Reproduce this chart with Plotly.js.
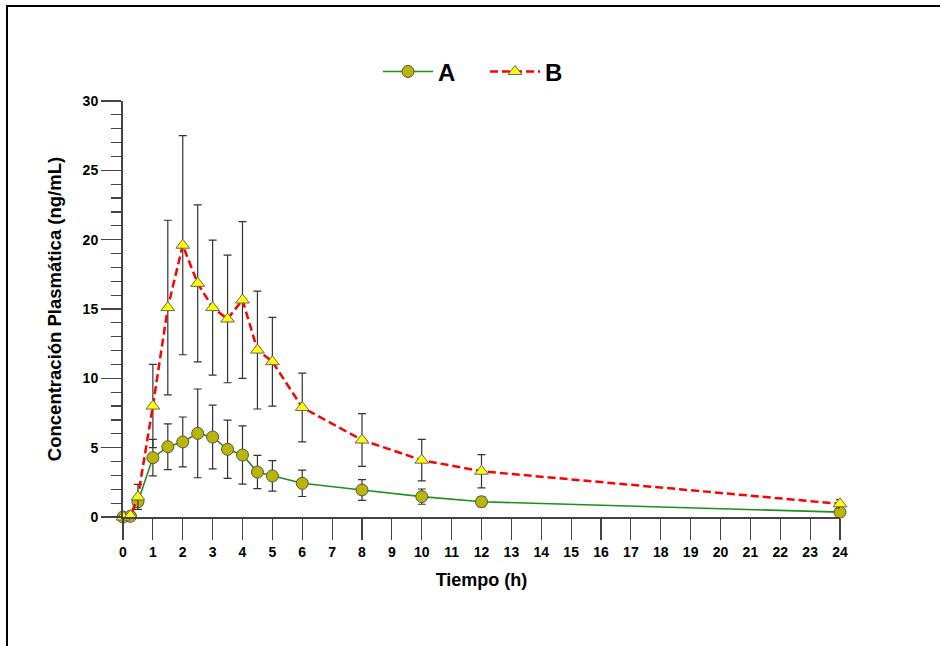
<!DOCTYPE html>
<html>
<head>
<meta charset="utf-8">
<script src="https://cdn.plot.ly/plotly-3.0.1.min.js"></script>
<style>
  html, body { margin: 0; padding: 0; background: #ffffff; }
  #wrap { position: relative; width: 941px; height: 646px; overflow: hidden; }
  #frame { position: absolute; left: 6px; top: 5px; width: 932px; height: 700px;
           border-top: 2px solid #000; border-left: 2px solid #000; pointer-events: none; z-index: 5; }
  #chart { position: absolute; left: 0; top: 0; width: 941px; height: 646px; }
</style>
</head>
<body>
<div id="wrap">
  <div id="chart"></div>
  <div id="frame"></div>
</div>
<script>
// Time points (h)
const timeH = [0, 0.25, 0.5, 1, 1.5, 2, 2.5, 3, 3.5, 4, 4.5, 5, 6, 8, 10, 12, 24];
// Series A: mean and SD (ng/mL)
const meanA = [0, 0.05, 1.1, 4.28, 5.07, 5.41, 6.03, 5.77, 4.88, 4.47, 3.24, 2.96, 2.43, 1.95, 1.47, 1.1, 0.35];
const sdA   = [0, 0.05, 0.3, 1.32, 1.65, 1.8, 3.2, 2.3, 2.1, 2.1, 1.2, 1.1, 0.95, 0.75, 0.55, 0.35, 0.2];
// Series B: mean and SD (ng/mL)
const meanB = [0, 0.1, 1.45, 8.0, 15.1, 19.6, 16.85, 15.1, 14.28, 15.65, 12.04, 11.2, 7.9, 5.55, 4.1, 3.3, 0.95];
const sdB   = [0, 0.1, 0.9, 3.0, 6.3, 7.9, 5.66, 4.87, 4.6, 5.65, 4.25, 3.2, 2.48, 1.9, 1.5, 1.2, 0.3];
// Labels
const seriesNames = ["A", "B"];
const xTickVals = [0,1,2,3,4,5,6,7,8,9,10,11,12,13,14,15,16,17,18,19,20,21,22,23,24];
const yTickVals = [0, 5, 10, 15, 20, 25, 30];
const xTitle = "Tiempo (h)";
const yTitle = "Concentración Plasmática (ng/mL)";

const font = "Liberation Sans, Arial, sans-serif";

const traceA = {
  x: timeH, y: meanA, name: seriesNames[0], type: "scatter", mode: "lines+markers",
  line: { color: "#1f8f1f", width: 1.6 },
  marker: { symbol: "circle", size: 12, color: "#b9b500", line: { color: "#555555", width: 1 } },
  error_y: { type: "data", array: sdA, visible: true, color: "#333333", thickness: 1.2, width: 4 },
  cliponaxis: false
};
const traceB = {
  x: timeH, y: meanB, name: seriesNames[1], type: "scatter", mode: "lines+markers",
  line: { color: "#ff0000", width: 2.5, dash: "8px,4px" },
  marker: { symbol: "triangle-up", size: 12, color: "#ffff00", line: { color: "#666666", width: 1 } },
  error_y: { type: "data", array: sdB, visible: true, color: "#333333", thickness: 1.2, width: 4 },
  cliponaxis: false
};

const layout = {
  width: 941, height: 646,
  paper_bgcolor: "#ffffff", plot_bgcolor: "#ffffff",
  margin: { l: 123, r: 101, t: 101, b: 129, pad: 0 },
  showlegend: true,
  legend: {
    orientation: "h", x: (378 - 123) / 717, xanchor: "left", y: 1.07, yanchor: "middle",
    font: { family: font, size: 24, color: "#000000", weight: "bold" },
    bgcolor: "rgba(0,0,0,0)", itemwidth: 50, entrywidth: 42, entrywidthmode: "pixels", tracegroupgap: 0
  },
  xaxis: {
    range: [0, 24], autorange: false,
    tickmode: "array", tickvals: xTickVals, ticktext: xTickVals.map(String),
    ticks: "outside", ticklen: 21, tickwidth: 1.2, tickcolor: "#444444",
    showline: true, linecolor: "#444444", linewidth: 2,
    showgrid: false, zeroline: false,
    tickfont: { family: font, size: 14, color: "#000000", weight: "bold" },
    title: { text: xTitle, font: { family: font, size: 18, color: "#000000", weight: "bold" }, standoff: 15 }
  },
  yaxis: {
    range: [0, 30], autorange: false,
    tickmode: "array", tickvals: yTickVals, ticktext: yTickVals.map(String),
    ticks: "outside", ticklen: 20, tickwidth: 1.2, tickcolor: "#444444",
    minor: { dtick: 1, ticks: "outside", ticklen: 10, tickwidth: 1.2, tickcolor: "#444444" },
    showline: true, linecolor: "#444444", linewidth: 2,
    showgrid: false, zeroline: false,
    tickfont: { family: font, size: 14, color: "#000000", weight: "bold" },
    title: { text: yTitle, font: { family: font, size: 18.5, color: "#000000", weight: "bold" }, standoff: 16 }
  }
};

Plotly.newPlot("chart", [traceA, traceB], layout, { displayModeBar: false, staticPlot: true });
</script>
</body>
</html>
